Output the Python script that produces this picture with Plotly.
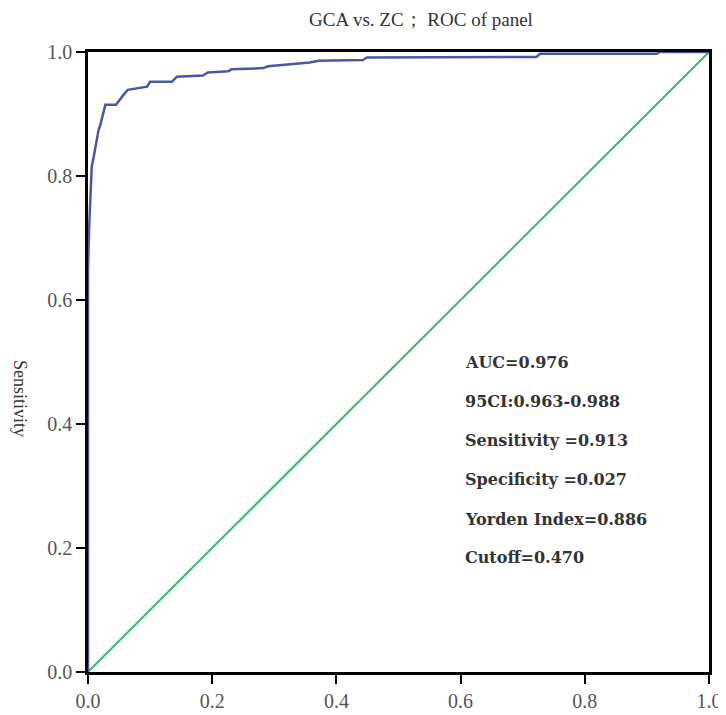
import plotly.graph_objects as go

fpr = [0, 0, 0.002, 0.004, 0.006, 0.009, 0.011, 0.014, 0.017, 0.020, 0.022, 0.026, 0.028,
       0.045, 0.052, 0.058, 0.064, 0.095, 0.100, 0.135, 0.143, 0.185, 0.193, 0.226, 0.231,
       0.282, 0.290, 0.357, 0.371, 0.443, 0.449, 0.722, 0.728, 0.916, 0.920, 1.0]
tpr = [0, 0.65, 0.72, 0.78, 0.815, 0.83, 0.842, 0.86, 0.874, 0.883, 0.890, 0.905, 0.915,
       0.915, 0.925, 0.932, 0.939, 0.944, 0.952, 0.952, 0.960, 0.962, 0.967, 0.969, 0.972,
       0.974, 0.977, 0.983, 0.986, 0.987, 0.991, 0.992, 0.997, 0.997, 1.0, 1.0]
ref_x = [0, 1]
ref_y = [0, 1]
tick_vals = [0.0, 0.2, 0.4, 0.6, 0.8, 1.0]
tick_text = ["0.0", "0.2", "0.4", "0.6", "0.8", "1.0"]
stats = ["AUC=0.976", "95CI:0.963-0.988", "Sensitivity =0.913",
         "Specificity =0.027", "Yorden Index=0.886", "Cutoff=0.470"]
stats_y = [0.500, 0.437, 0.374, 0.310, 0.246, 0.184]

# page has an 8px body margin; figure placed at (8, 8)
OFF = 8
W, H = 726 - OFF, 715 - OFF
L, R, T, B = 88 - OFF, 17, 52 - OFF, 43

fig = go.Figure()
fig.add_trace(go.Scatter(x=ref_x, y=ref_y, mode="lines",
                         line=dict(color="#3ab672", width=2), hoverinfo="skip"))
fig.add_trace(go.Scatter(x=fpr, y=tpr, mode="lines",
                         line=dict(color="#4a58a4", width=2.5)))

axis_common = dict(range=[0, 1], tickvals=tick_vals, ticktext=tick_text,
                   showline=True, linecolor="black", linewidth=2.5, mirror=True,
                   ticks="outside", ticklen=9, tickwidth=2, tickcolor="black",
                   showgrid=False, zeroline=False, automargin=False,
                   tickfont=dict(family="Liberation Serif", size=20, color="#555555"))
fig.update_xaxes(**axis_common)
fig.update_yaxes(**axis_common)

for txt, yy in zip(stats, stats_y):
    fig.add_annotation(x=0.604, y=yy, xref="x", yref="y", text="<b>" + txt + "</b>",
                       showarrow=False, xanchor="left", yanchor="middle",
                       font=dict(family="DejaVu Serif", size=16, color="#333333"))

# rotated axis title at page pixel (20, 398)
fig.add_annotation(x=(20 - 88) / (W - L - R), y=(715 - B - 398) / (H - T - B),
                   xref="paper", yref="paper", text="Sensitivity",
                   showarrow=False, textangle=90, xanchor="center", yanchor="middle",
                   font=dict(family="Liberation Serif", size=18, color="#333333"))

fig.update_layout(
    width=W, height=H,
    margin=dict(l=L, r=R, t=T, b=B),
    paper_bgcolor="white", plot_bgcolor="white",
    showlegend=False,
    title=dict(text="GCA vs. ZC； ROC of panel", x=(421 - OFF) / W, xanchor="center",
               xref="container", yref="container", y=1 - (19 - OFF) / H, yanchor="middle",
               font=dict(family="Liberation Serif", size=19, color="#333333")),
)

fig.write_html("out.html")
